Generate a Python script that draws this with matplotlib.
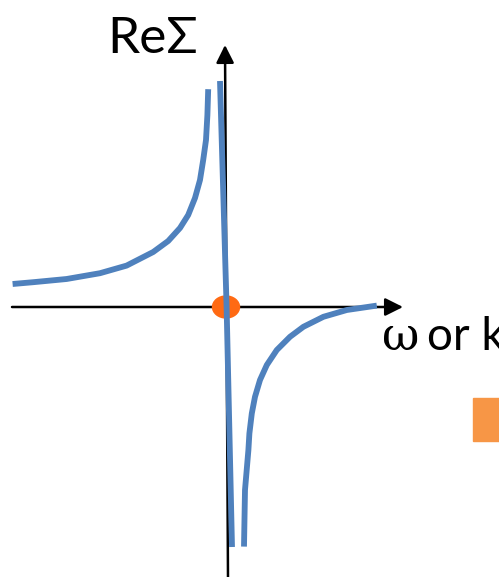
import matplotlib
matplotlib.use("Agg")
import matplotlib.pyplot as plt
from matplotlib.patches import Ellipse, Rectangle

# sketch of Re Sigma vs omega (arbitrary units)
left_x = [-10.67, -9.64, -7.97, -6.3, -4.97, -3.64, -2.89, -2.3, -1.89, -1.55,
          -1.3, -1.14, -1.0, -0.93, -0.89]
left_y = [1.15, 1.24, 1.4, 1.69, 2.07, 2.75, 3.3, 3.95, 4.6, 5.45,
          6.35, 7.35, 8.35, 9.6, 10.89]

mid_x = [-0.3, 0.03, 0.3]
mid_y = [11.3, 0.0, -12.0]

right_x = [0.9, 0.95, 1.12, 1.17, 1.29, 1.45, 1.7, 2.04, 2.54, 3.2, 3.87,
           4.87, 6.04, 7.54]
right_y = [-11.98, -9.15, -7.15, -6.32, -5.32, -4.49, -3.65, -2.9, -2.15,
           -1.49, -0.99, -0.49, -0.15, 0.07]

BLUE = "#4F81BD"
FONT = ["Lato", "DejaVu Sans"]

fig = plt.figure(figsize=(4.99, 5.77), dpi=100)
ax = fig.add_axes([0, 0, 1, 1])
ax.set_xlim(-11.3, 13.65)
ax.set_ylim(-13.5, 15.35)
ax.axis("off")

arrow = dict(arrowstyle="-|>,head_length=0.4,head_width=0.2", mutation_scale=27,
             lw=1.8, color="black", shrinkA=0, shrinkB=0)
# axes with arrow heads
ax.annotate("", xy=(8.85, 0.0), xytext=(-10.7, 0.0), arrowprops=arrow, zorder=1)
ax.annotate("", xy=(-0.05, 13.1), xytext=(0.1, -13.6), arrowprops=arrow, zorder=1)

ax.add_patch(Ellipse((0, 0), 1.35, 1.1, color="#FF6A13", zorder=2))

for xs, ys in [(left_x, left_y), (mid_x, mid_y), (right_x, right_y)]:
    ax.plot(xs, ys, color=BLUE, lw=4.2, solid_capstyle="butt",
            solid_joinstyle="round", zorder=3)

ax.add_patch(Rectangle((12.37, -6.69), 1.5, 2.12, color="#F79646", zorder=2))

ax.text(-5.95, 12.69, "ReΣ", fontsize=37, family=FONT, va="baseline", ha="left")
ax.text(7.79, -2.15, "ω", fontsize=33, family=["DejaVu Serif"], va="baseline", ha="left")
ax.text(10.07, -2.15, "or k", fontsize=33, family=FONT, va="baseline", ha="left")

fig.savefig("out.png", dpi=100)
